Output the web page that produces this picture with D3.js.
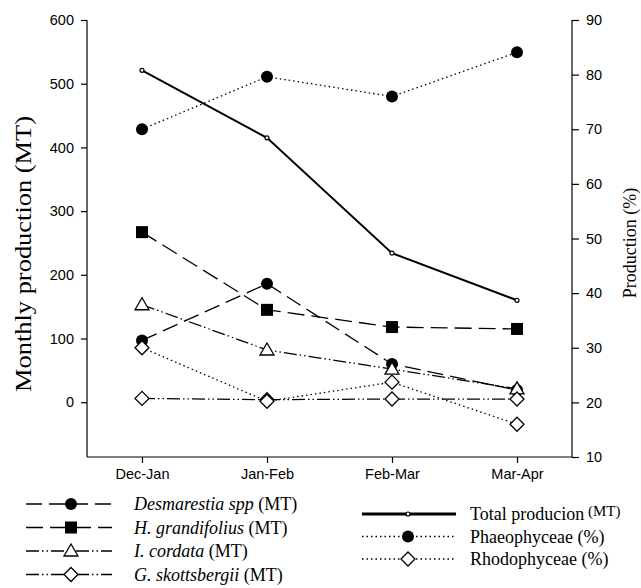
<!DOCTYPE html>
<html lang="en">
<head>
  <meta charset="UTF-8">
  <title>Monthly seaweed production</title>
  <script src="https://d3js.org/d3.v7.min.js"></script>
  <style>
    body { margin: 0; background: #fff; }
    .tick text { font-family: "Liberation Sans", Arial, sans-serif; font-size: 14.5px; fill: #000; }
    .axis-title { font-family: "Liberation Serif", "Times New Roman", serif; }
    .legend { font-family: "Liberation Serif", "Times New Roman", serif; font-size: 18px; }
  </style>
</head>
<body>
  <svg id="chart" width="641" height="588"></svg>
  <script>
    const months = ["Dec-Jan", "Jan-Feb", "Feb-Mar", "Mar-Apr"];

    // left axis (MT)
    const desmarestia = [97, 186, 60, 19];
    const grandifolius = [267, 145, 118, 115];
    const cordata = [153, 82, 52, 21];
    const skottsbergii = [6, 4, 5, 5];
    const total = [521, 415, 234, 160];

    // right axis (%)
    const phaeophyceae = [70.0, 79.6, 76.0, 84.1];
    const rhodophyceae = [30.0, 20.2, 23.7, 16.0];

    const leftTicks = [0, 100, 200, 300, 400, 500, 600];
    const rightTicks = [10, 20, 30, 40, 50, 60, 70, 80, 90];

    const svg = d3.select("#chart");
    const plotLeft = 87, plotRight = 572, plotTop = 20, plotBottom = 457;

    const x = d3.scalePoint().domain(months).range([plotLeft, plotRight]).padding(0.44);
    const yL = d3.scaleLinear().domain([-86, 600]).range([plotBottom, plotTop]);
    const yR = d3.scaleLinear().domain([10, 90]).range([plotBottom, plotTop]);

    // axes
    svg.append("g")
      .attr("transform", `translate(${plotLeft},0)`)
      .call(d3.axisLeft(yL).tickValues(leftTicks).tickSize(6).tickPadding(7).tickSizeOuter(0))
      .call(g => g.select(".domain").attr("d", `M0,${plotTop}V${plotBottom}`));

    svg.append("g")
      .attr("transform", `translate(${plotRight},0)`)
      .call(d3.axisRight(yR).tickValues(rightTicks).tickSize(7).tickPadding(7).tickSizeOuter(0))
      .call(g => g.select(".domain").attr("d", `M0,${plotTop}V${plotBottom}`));

    svg.append("g")
      .attr("transform", `translate(0,${plotBottom})`)
      .call(d3.axisBottom(x).tickSize(6).tickPadding(6).tickSizeOuter(0))
      .call(g => g.select(".domain").attr("d", `M${plotLeft},0H${plotRight}`));

    svg.selectAll(".domain, .tick line").attr("stroke", "#000").attr("stroke-width", 1.2);

    svg.append("text").attr("class", "axis-title")
      .attr("transform", "translate(31,254) rotate(-90)")
      .attr("text-anchor", "middle")
      .attr("font-size", 24)
      .attr("textLength", 276)
      .attr("lengthAdjust", "spacingAndGlyphs")
      .text("Monthly production (MT)");

    svg.append("text").attr("class", "axis-title")
      .attr("transform", "translate(636,243) rotate(-90)")
      .attr("text-anchor", "middle")
      .attr("font-size", 18)
      .text("Production (%)");

    // series definitions
    const series = [
      { name: "desm", values: desmarestia, y: yL, dash: "16,7", width: 1.3, marker: "circle" },
      { name: "gran", values: grandifolius, y: yL, dash: "17,7", width: 1.3, marker: "square" },
      { name: "cord", values: cordata, y: yL, dash: "13,3,1.5,3,1.5,3", width: 1.3, marker: "triangle" },
      { name: "skot", values: skottsbergii, y: yL, dash: "13,3,1.5,3,1.5,3", width: 1.3, marker: "diamond" },
      { name: "total", values: total, y: yL, dash: null, width: 2, marker: "small" },
      { name: "phaeo", values: phaeophyceae, y: yR, dash: "1.5,3", width: 1.3, marker: "circle" },
      { name: "rhodo", values: rhodophyceae, y: yR, dash: "1.5,3", width: 1.3, marker: "diamond" }
    ];

    function drawMarker(g, type, cx, cy) {
      if (type === "circle") {
        g.append("circle").attr("cx", cx).attr("cy", cy).attr("r", 6).attr("fill", "#000");
      } else if (type === "square") {
        g.append("rect").attr("x", cx - 6).attr("y", cy - 6).attr("width", 12).attr("height", 12).attr("fill", "#000");
      } else if (type === "triangle") {
        g.append("path").attr("d", `M${cx},${cy - 7}L${cx + 7},${cy + 5}L${cx - 7},${cy + 5}Z`)
          .attr("fill", "#fff").attr("stroke", "#000").attr("stroke-width", 1.3);
      } else if (type === "diamond") {
        g.append("path").attr("d", `M${cx},${cy - 7}L${cx + 7},${cy}L${cx},${cy + 7}L${cx - 7},${cy}Z`)
          .attr("fill", "#fff").attr("stroke", "#000").attr("stroke-width", 1.3);
      } else if (type === "small") {
        g.append("circle").attr("cx", cx).attr("cy", cy).attr("r", 2)
          .attr("fill", "#fff").attr("stroke", "#000").attr("stroke-width", 1.2);
      }
    }

    const plot = svg.append("g");
    series.forEach(s => {
      const line = d3.line().x((d, i) => x(months[i])).y(d => s.y(d));
      plot.append("path")
        .datum(s.values)
        .attr("d", line)
        .attr("fill", "none")
        .attr("stroke", "#000")
        .attr("stroke-width", s.width)
        .attr("stroke-dasharray", s.dash);
    });
    series.forEach(s => {
      const g = plot.append("g");
      s.values.forEach((v, i) => drawMarker(g, s.marker, x(months[i]), s.y(v)));
    });

    // legend
    const legendLeft = [
      { label: ["Desmarestia spp", " (MT)"], s: series[0] },
      { label: ["H. grandifolius", " (MT)"], s: series[1] },
      { label: ["I. cordata", " (MT)"], s: series[2] },
      { label: ["G. skottsbergii", " (MT)"], s: series[3] }
    ];
    const legendRight = [
      { label: ["Total producion", " (MT)"], s: series[4], small: true, width: 3 },
      { label: ["Phaeophyceae (%)"], s: series[5] },
      { label: ["Rhodophyceae (%)"], s: series[6] }
    ];

    function legendItem(item, x0, x1, xm, xt, y, italic) {
      const g = svg.append("g");
      g.append("line").attr("x1", x0).attr("x2", x1).attr("y1", y).attr("y2", y)
        .attr("stroke", "#000").attr("stroke-width", item.width || item.s.width)
        .attr("stroke-dasharray", item.s.dash);
      drawMarker(g, item.s.marker, xm, y);
      const t = g.append("text").attr("class", "legend").attr("x", xt).attr("y", y + 6);
      t.append("tspan").attr("font-style", italic ? "italic" : "normal").text(item.label[0]);
      if (item.label[1]) {
        const ts = t.append("tspan").text(item.label[1]);
        if (item.small) ts.attr("font-size", 15).attr("dy", -4);
      }
    }

    legendLeft.forEach((item, i) => legendItem(item, 26, 112, 71, 134, 504 + i * 23.5, true));
    legendRight.forEach((item, i) => legendItem(item, 362, 456, 408, 470, 514 + i * 22.5, false));
  </script>
</body>
</html>
